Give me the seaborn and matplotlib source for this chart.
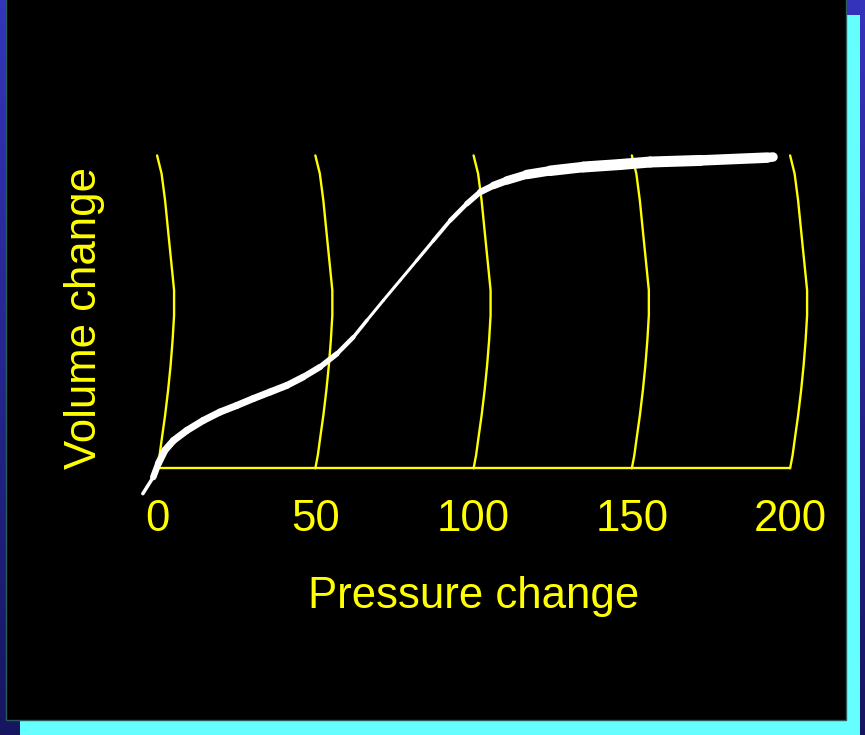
import numpy as np
import pandas as pd
import matplotlib
matplotlib.use('Agg')
import matplotlib.pyplot as plt
from matplotlib.collections import LineCollection
from matplotlib.patches import Rectangle
import seaborn as sns

# 1. data =====================================================
pressure_ticks = [0, 50, 100, 150, 200]
tick_labels = ['0', '50', '100', '150', '200']

# bowed "iso-lines": vertical position and sideways offset (data units)
bow_y = [100, 94.2, 85.6, 72.8, 63.3, 56.9, 48.9, 40.9, 32.9, 24.9, 16.9, 8.9, 4.2, 0]
bow_dx = [0, 1.42, 2.53, 3.79, 4.74, 5.37, 5.37, 4.90, 4.27, 3.48, 2.53, 1.42, 0.79, 0]

# pressure-volume curve
pv_pressure = [-4.5, -1.2, 0.4, 2.5, 5.2, 9.4, 14.6, 19.9, 25.2, 30.4, 35.7, 41.0,
               46.2, 51.5, 56.8, 62.0, 66.3, 71.5, 76.8, 82.1, 87.3, 92.6, 97.9,
               102.1, 106.3, 110.5, 116.8, 124.2, 134.7, 146.3, 155.8, 171.6, 192.7, 194.6]
pv_volume = [-8.1, -2.8, 1.5, 5.8, 8.9, 12.1, 15.3, 18.0, 20.1, 22.3, 24.4, 26.5,
             29.2, 32.4, 36.6, 41.9, 47.3, 53.7, 60.1, 66.5, 72.8, 79.2, 84.6,
             88.3, 90.4, 92.0, 93.9, 95.1, 96.3, 97.1, 97.9, 98.4, 99.3, 99.5]
# stroke thickness along the curve (px)
pv_width = [1, 6, 7, 7, 7, 7, 7, 7, 7, 7, 7, 7, 6.5, 6, 5, 4, 3, 3, 3, 3, 3.5,
            4, 5, 6, 7, 8, 9, 10, 11, 11, 11, 11, 10, 9]

# 2. style ====================================================
sns.set_style('dark')
plt.rcParams['font.family'] = ['Liberation Sans', 'DejaVu Sans']
yellow = '#FFFF00'

fig = plt.figure(figsize=(8.65, 7.35), dpi=100)

# slide background: blue gradient, cyan shadow, black panel
bg = fig.add_axes([0, 0, 1, 1])
grad = np.linspace(0, 1, 256).reshape(-1, 1)
cmap = matplotlib.colors.LinearSegmentedColormap.from_list('bg', ['#3434bc', '#161660'])
bg.imshow(grad, aspect='auto', cmap=cmap, extent=[0, 865, 735, 0])
bg.add_patch(Rectangle((20, 15), 840, 720, facecolor='#66FFFF', edgecolor='none'))
bg.add_patch(Rectangle((6, -5), 840, 725, facecolor='black', edgecolor='#2a5a5a', lw=1))
bg.set_xlim(0, 865)
bg.set_ylim(735, 0)
bg.axis('off')

# 3. chart ====================================================
ax = fig.add_axes([0.145, 0.3245, 0.805, 0.4853])
ax.set_facecolor('none')

for p in pressure_ticks:
    sns.lineplot(x=[p + d for d in bow_dx], y=bow_y, sort=False, estimator=None,
                 color=yellow, lw=1.7, ax=ax)
sns.lineplot(x=[pressure_ticks[0], pressure_ticks[-1]], y=[0, 0], color=yellow,
             lw=1.7, ax=ax)

pts = np.column_stack([pv_pressure, pv_volume])
segs = np.stack([pts[:-1], pts[1:]], axis=1)
seg_w = [(a + b) / 2 * 0.72 for a, b in zip(pv_width[:-1], pv_width[1:])]
lc = LineCollection(segs, linewidths=seg_w, colors='white', capstyle='round',
                    joinstyle='round')
ax.add_collection(lc)

ax.set_xlim(-10, 210)
ax.set_ylim(-9, 105)
ax.set_xticks(pressure_ticks)
ax.set_xticklabels(tick_labels, color=yellow, fontsize=31.5)
ax.set_yticks([])
ax.tick_params(axis='x', length=0, pad=2)
ax.grid(False)
for s in ax.spines.values():
    s.set_visible(False)

ax.set_xlabel('Pressure change', color=yellow, fontsize=31.5, labelpad=26)
ax.set_ylabel('Volume change', color=yellow, fontsize=31.5, labelpad=15)

fig.savefig('out.png', dpi=100)
